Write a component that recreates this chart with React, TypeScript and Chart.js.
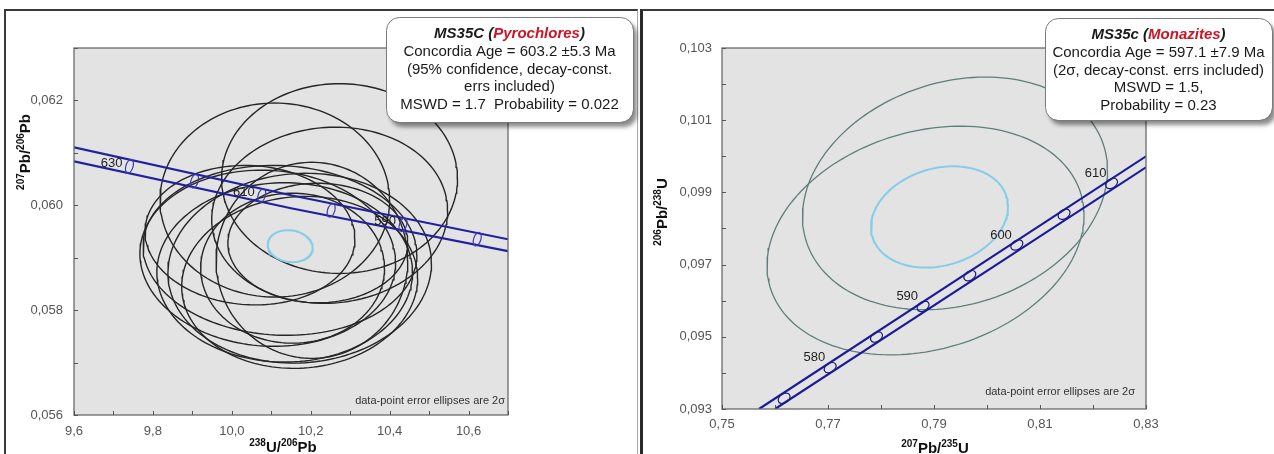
import React, { useEffect, useRef } from 'react';
import { Chart, registerables } from 'chart.js';
Chart.register(...registerables);

const FONT = '"Liberation Sans", Arial, Helvetica, sans-serif';

// ---------------- Left panel: Tera-Wasserburg (pyrochlores) ----------------
const twXMajor = [9.6, 9.8, 10.0, 10.2, 10.4, 10.6];
const twXMinor = [9.7, 9.9, 10.1, 10.3, 10.5, 10.7];
const twYMajor = [0.056, 0.058, 0.060, 0.062];
const twYMinor = [0.057, 0.059, 0.061, 0.063];

const twBandX = [9.6, 10.15, 10.7];
const twBandUpper = [0.061105, 0.060191, 0.059352];
const twBandLower = [0.060838, 0.059943, 0.059124];

const twAges = [630, 620, 610, 600, 590, 580];
const twAgeX = [9.7405, 9.9054, 10.0758, 10.2518, 10.434, 10.622];
const twAgeY = [0.060742, 0.06046, 0.060185, 0.059904, 0.059628, 0.059353];
const twAgeLabels = ['630', '', '610', '', '590', ''];

// data-point 2σ error ellipses: centre, half-widths, correlation
const twEllX = [10.273, 10.109, 10.248, 10.091, 10.134, 10.172, 10.122, 10.172, 10.154, 10.203, 10.046, 10.218];
const twEllY = [0.06051, 0.0601, 0.05981, 0.05899, 0.05872, 0.0588, 0.05914, 0.05853, 0.0588, 0.05895, 0.05943, 0.05928];
const twEllSX = [0.299, 0.291, 0.299, 0.324, 0.324, 0.334, 0.347, 0.299, 0.233, 0.243, 0.266, 0.228];
const twEllSY = [0.00181, 0.00185, 0.00168, 0.00168, 0.00171, 0.00181, 0.00162, 0.00164, 0.00143, 0.00187, 0.00133, 0.00114];
const twEllRho = [0, 0, 0.05, -0.05, 0, 0.05, -0.05, 0.05, 0, 0, -0.05, 0];
const twMean = [10.148, 0.05922, 0.057, 0.000305, -0.1];

// ---------------- Right panel: Wetherill (monazites) ----------------
const wXMajor = [0.75, 0.77, 0.79, 0.81, 0.83];
const wXMinor = [0.76, 0.78, 0.8, 0.82];
const wYMajor = [0.093, 0.095, 0.097, 0.099, 0.101, 0.103];
const wYMinor = [0.094, 0.096, 0.098, 0.1, 0.102];

const wBandUpperX = [0.75698, 0.83];
const wBandUpperY = [0.093, 0.1];
const wBandLowerX = [0.76, 0.83];
const wBandLowerY = [0.093, 0.099695];

const wAges = [575, 580, 585, 590, 595, 600, 605, 610];
const wAgeX = [0.76172, 0.77041, 0.77915, 0.78794, 0.79676, 0.80563, 0.81454, 0.8235];
const wAgeY = [0.093296, 0.094145, 0.094993, 0.095843, 0.096693, 0.097544, 0.098395, 0.099248];
const wAgeLabels = ['', '580', '', '590', '', '600', '', '610'];

const wEllX = [0.79396, 0.7884];
const wEllY = [0.098972, 0.097667];
const wEllSX = [0.028774, 0.029906];
const wEllSY = [0.003222, 0.003167];
const wEllRho = [0.2, 0.22];
const wMean = [0.79104, 0.09832, 0.012925, 0.001403, 0.2];

type Seg = { t: string; sup?: boolean; color?: string; font?: string };

function ellipseData(cx: number, cy: number, sx: number, sy: number, rho: number) {
  const pts: { x: number; y: number }[] = [];
  const n = 160;
  const k = Math.sqrt(1 - rho * rho);
  for (let i = 0; i <= n; i++) {
    const t = (i / n) * 2 * Math.PI;
    pts.push({ x: cx + sx * Math.cos(t), y: cy + sy * (rho * Math.cos(t) + k * Math.sin(t)) });
  }
  return pts;
}

function lineData(xs: number[], ys: number[]) {
  return xs.map((x, i) => ({ x, y: ys[i] }));
}

function drawSegs(ctx: CanvasRenderingContext2D, segs: Seg[], cx: number, y: number, baseFont: string, supFont: string, color: string) {
  let w = 0;
  const widths = segs.map((s) => {
    ctx.font = s.sup ? supFont : s.font || baseFont;
    const m = ctx.measureText(s.t).width;
    w += m;
    return m;
  });
  let x = cx - w / 2;
  ctx.textAlign = 'left';
  ctx.textBaseline = 'alphabetic';
  segs.forEach((s, i) => {
    ctx.font = s.sup ? supFont : s.font || baseFont;
    ctx.fillStyle = s.color || color;
    ctx.fillText(s.t, x, s.sup ? y - 6 : y);
    x += widths[i];
  });
}

interface PanelCfg {
  width: number;
  padTop: number;
  padRight: number;
  yAxisW: number;
  xAxisH: number;
  xPad: number;
  yPad: number;
  xMin: number; xMax: number; yMin: number; yMax: number;
  xMajor: number[]; xMinor: number[]; yMajor: number[]; yMinor: number[];
  xDec: number; yDec: number;
  datasets: any[];
  ages: number[]; ageX: number[]; ageY: number[]; ageLabels: string[];
  markerRx: number; markerRy: number; markerRot: number; markerColor: string;
  labelDx: number; labelDy: number;
  xTitle: Seg[]; xTitleAt: [number, number];
  yTitle: Seg[]; yTitleAt: [number, number];
  box: [number, number, number, number];
  boxLines: Seg[][];
  noteDx: number; noteDy: number;
}

const PLOT_BG = '#e3e3e3';

function makePlugin(p: PanelCfg) {
  return {
    id: 'panelDecor',
    beforeDatasetsDraw(chart: any) {
      const { ctx, chartArea: a } = chart;
      ctx.save();
      ctx.fillStyle = PLOT_BG;
      ctx.fillRect(a.left, a.top, a.right - a.left, a.bottom - a.top);
      ctx.restore();
    },
    afterDatasetsDraw(chart: any) {
      const { ctx, chartArea: a } = chart;
      const xs = chart.scales.x;
      const ys = chart.scales.y;
      ctx.save();
      // age markers on concordia band
      ctx.strokeStyle = p.markerColor;
      ctx.lineWidth = 1.2;
      p.ages.forEach((_, i) => {
        const px = xs.getPixelForValue(p.ageX[i]);
        const py = ys.getPixelForValue(p.ageY[i]);
        ctx.beginPath();
        ctx.ellipse(px, py, p.markerRx, p.markerRy, p.markerRot, 0, Math.PI * 2);
        ctx.stroke();
      });
      ctx.font = '13px ' + FONT;
      ctx.fillStyle = '#1e1e1e';
      ctx.textAlign = 'right';
      ctx.textBaseline = 'middle';
      p.ages.forEach((_, i) => {
        if (!p.ageLabels[i]) return;
        const px = xs.getPixelForValue(p.ageX[i]);
        const py = ys.getPixelForValue(p.ageY[i]);
        ctx.fillText(p.ageLabels[i], px + p.labelDx, py + p.labelDy);
      });
      // frame
      ctx.strokeStyle = '#6a6a6a';
      ctx.lineWidth = 1.3;
      ctx.strokeRect(a.left, a.top, a.right - a.left, a.bottom - a.top);
      // inner ticks
      ctx.strokeStyle = '#555';
      ctx.lineWidth = 1;
      ctx.beginPath();
      xs.ticks.forEach((t: any) => {
        const px = Math.round(xs.getPixelForValue(t.value)) + 0.5;
        ctx.moveTo(px, a.bottom);
        ctx.lineTo(px, a.bottom - 4);
      });
      ys.ticks.forEach((t: any) => {
        const py = Math.round(ys.getPixelForValue(t.value)) + 0.5;
        ctx.moveTo(a.left, py);
        ctx.lineTo(a.left + 4, py);
      });
      ctx.stroke();
      // note
      ctx.font = '11px ' + FONT;
      ctx.fillStyle = '#333';
      ctx.textAlign = 'right';
      ctx.textBaseline = 'middle';
      ctx.fillText('data-point error ellipses are 2\u03c3', a.right + p.noteDx, a.bottom + p.noteDy);
      // axis titles
      const bf = 'bold 15px ' + FONT;
      const sf = 'bold 10px ' + FONT;
      drawSegs(ctx, p.xTitle, p.xTitleAt[0], p.xTitleAt[1], bf, sf, '#111');
      ctx.save();
      ctx.translate(p.yTitleAt[0], p.yTitleAt[1]);
      ctx.rotate(-Math.PI / 2);
      drawSegs(ctx, p.yTitle, 0, 0, bf, sf, '#111');
      ctx.restore();
      // annotation box
      const [bx, by, bw, bh] = p.box;
      ctx.save();
      ctx.shadowColor = 'rgba(0,0,0,0.45)';
      ctx.shadowOffsetX = 4;
      ctx.shadowOffsetY = 5;
      ctx.shadowBlur = 4;
      ctx.beginPath();
      (ctx as any).roundRect(bx, by, bw, bh, 13);
      ctx.fillStyle = '#fff';
      ctx.fill();
      ctx.restore();
      ctx.beginPath();
      (ctx as any).roundRect(bx + 0.5, by + 0.5, bw, bh, 13);
      ctx.strokeStyle = '#7a7a7a';
      ctx.lineWidth = 1;
      ctx.stroke();
      const cx = bx + bw / 2;
      p.boxLines.forEach((line, i) => {
        drawSegs(ctx, line, cx, by + 21 + i * 17.8, '15px ' + FONT, '10px ' + FONT, '#1a1a1a');
      });
      ctx.restore();
    },
  };
}

function fmt(v: number, d: number) {
  return v.toFixed(d).replace('.', ',');
}

function buildChart(canvas: HTMLCanvasElement, p: PanelCfg) {
  const isIn = (arr: number[], v: number) => arr.some((m) => Math.abs(m - v) < 1e-9);
  return new Chart(canvas, {
    type: 'scatter',
    data: { datasets: p.datasets },
    options: {
      responsive: false,
      animation: false,
      events: [],
      layout: { padding: { top: p.padTop, right: p.padRight, left: 0, bottom: 0 } },
      plugins: { legend: { display: false }, tooltip: { enabled: false } },
      scales: {
        x: {
          type: 'linear',
          min: p.xMin,
          max: p.xMax,
          afterBuildTicks: (s: any) => {
            s.ticks = [...p.xMajor, ...p.xMinor].sort((a, b) => a - b).map((v) => ({ value: v }));
          },
          afterFit: (s: any) => {
            s.height = p.xAxisH;
          },
          grid: { display: false, drawTicks: false },
          border: { display: false },
          ticks: {
            autoSkip: false,
            maxRotation: 0,
            padding: p.xPad,
            color: '#555',
            font: { size: 13, family: FONT },
            callback: (v: any) => (isIn(p.xMajor, Number(v)) ? fmt(Number(v), p.xDec) : ''),
          },
        },
        y: {
          type: 'linear',
          min: p.yMin,
          max: p.yMax,
          afterBuildTicks: (s: any) => {
            s.ticks = [...p.yMajor, ...p.yMinor].sort((a, b) => a - b).map((v) => ({ value: v }));
          },
          afterFit: (s: any) => {
            s.width = p.yAxisW;
          },
          grid: { display: false, drawTicks: false },
          border: { display: false },
          ticks: {
            autoSkip: false,
            padding: p.yPad,
            color: '#555',
            font: { size: 13, family: FONT },
            callback: (v: any) => (isIn(p.yMajor, Number(v)) ? fmt(Number(v), p.yDec) : ''),
          },
        },
      },
    } as any,
    plugins: [makePlugin(p) as any],
  });
}

const lineDs = (data: any[], color: string, width: number) => ({
  data,
  showLine: true,
  pointRadius: 0,
  borderColor: color,
  borderWidth: width,
  fill: false,
  tension: 0,
});

const RED = '#cc1424';

const leftCfg: PanelCfg = {
  width: 640,
  padTop: 48,
  padRight: 132,
  yAxisW: 74,
  xAxisH: 39,
  xPad: 9,
  yPad: 11,
  xMin: 9.6, xMax: 10.7, yMin: 0.056, yMax: 0.063,
  xMajor: twXMajor, xMinor: twXMinor, yMajor: twYMajor, yMinor: twYMinor,
  xDec: 1, yDec: 3,
  datasets: [
    lineDs(lineData(twBandX, twBandUpper), '#2020a4', 2.2),
    lineDs(lineData(twBandX, twBandLower), '#2020a4', 2.2),
    lineDs(ellipseData(twMean[0], twMean[1], twMean[2], twMean[3], twMean[4]), '#84cde8', 2),
    ...twEllX.map((x, i) => lineDs(ellipseData(x, twEllY[i], twEllSX[i], twEllSY[i], twEllRho[i]), '#262626', 1.4)),
  ],
  ages: twAges, ageX: twAgeX, ageY: twAgeY, ageLabels: twAgeLabels,
  markerRx: 3.6, markerRy: 7, markerRot: 0.3, markerColor: '#3b3bb0',
  labelDx: -7, labelDy: -3,
  xTitle: [{ t: '238', sup: true }, { t: 'U/' }, { t: '206', sup: true }, { t: 'Pb' }],
  xTitleAt: [283, 452],
  yTitle: [{ t: '207', sup: true }, { t: 'Pb/' }, { t: '206', sup: true }, { t: 'Pb' }],
  yTitleAt: [30, 152],
  box: [386, 17, 247, 105],
  boxLines: [
    [
      { t: 'MS35C (', font: 'italic bold 15px ' + FONT },
      { t: 'Pyrochlores', font: 'italic bold 15px ' + FONT, color: RED },
      { t: ')', font: 'italic bold 15px ' + FONT },
    ],
    [{ t: 'Concordia Age = 603.2 \u00b15.3 Ma' }],
    [{ t: '(95% confidence, decay-const.' }],
    [{ t: 'errs included)' }],
    [{ t: 'MSWD = 1.7  Probability = 0.022' }],
  ],
  noteDx: -3,
  noteDy: -14,
};

const rightCfg: PanelCfg = {
  width: 634,
  padTop: 48,
  padRight: 128,
  yAxisW: 82,
  xAxisH: 45,
  xPad: 8,
  yPad: 10,
  xMin: 0.75, xMax: 0.83, yMin: 0.093, yMax: 0.103,
  xMajor: wXMajor, xMinor: wXMinor, yMajor: wYMajor, yMinor: wYMinor,
  xDec: 2, yDec: 3,
  datasets: [
    lineDs(lineData(wBandUpperX, wBandUpperY), '#1b1b9a', 2.2),
    lineDs(lineData(wBandLowerX, wBandLowerY), '#1b1b9a', 2.2),
    lineDs(ellipseData(wMean[0], wMean[1], wMean[2], wMean[3], wMean[4]), '#84cde8', 2),
    ...wEllX.map((x, i) => lineDs(ellipseData(x, wEllY[i], wEllSX[i], wEllSY[i], wEllRho[i]), '#5e7e7b', 1.3)),
  ],
  ages: wAges, ageX: wAgeX, ageY: wAgeY, ageLabels: wAgeLabels,
  markerRx: 6.5, markerRy: 4.5, markerRot: -0.577, markerColor: '#1b1b80',
  labelDx: -5, labelDy: -10,
  xTitle: [{ t: '207', sup: true }, { t: 'Pb/' }, { t: '235', sup: true }, { t: 'U' }],
  xTitleAt: [295, 453],
  yTitle: [{ t: '206', sup: true }, { t: 'Pb/' }, { t: '238', sup: true }, { t: 'U' }],
  yTitleAt: [27, 212],
  box: [405, 18, 227, 102],
  boxLines: [
    [
      { t: 'MS35c (', font: 'italic bold 15px ' + FONT },
      { t: 'Monazites', font: 'italic bold 15px ' + FONT, color: RED },
      { t: ')', font: 'italic bold 15px ' + FONT },
    ],
    [{ t: 'Concordia Age = 597.1 \u00b17.9 Ma' }],
    [{ t: '(2\u03c3, decay-const. errs included)' }],
    [{ t: 'MSWD = 1.5,' }],
    [{ t: 'Probability = 0.23' }],
  ],
  noteDx: -11,
  noteDy: -17,
};

function Panel({ cfg, left }: { cfg: PanelCfg; left: number }) {
  const ref = useRef<HTMLCanvasElement>(null);
  useEffect(() => {
    const chart = buildChart(ref.current as HTMLCanvasElement, cfg);
    return () => chart.destroy();
  }, []);
  return (
    <canvas
      ref={ref}
      width={cfg.width}
      height={454}
      style={{ position: 'absolute', left, top: 0, width: cfg.width, height: 454 }}
    />
  );
}

export default function App() {
  return (
    <div style={{ position: 'absolute', left: 0, top: 0, width: 1274, height: 454, overflow: 'hidden', background: '#fff' }}>
      <div
        style={{
          position: 'absolute', left: 4, top: 9, width: 634, height: 500, boxSizing: 'border-box',
          borderLeft: '2px solid #3a3a3a', borderTop: '2px solid #3a3a3a', borderRight: '1px solid #a8a8a8',
        }}
      />
      <div
        style={{
          position: 'absolute', left: 640, top: 9, width: 700, height: 500, boxSizing: 'border-box',
          borderLeft: '3px solid #2a2a2a', borderTop: '2px solid #3a3a3a',
        }}
      />
      <Panel cfg={leftCfg} left={0} />
      <Panel cfg={rightCfg} left={640} />
    </div>
  );
}
